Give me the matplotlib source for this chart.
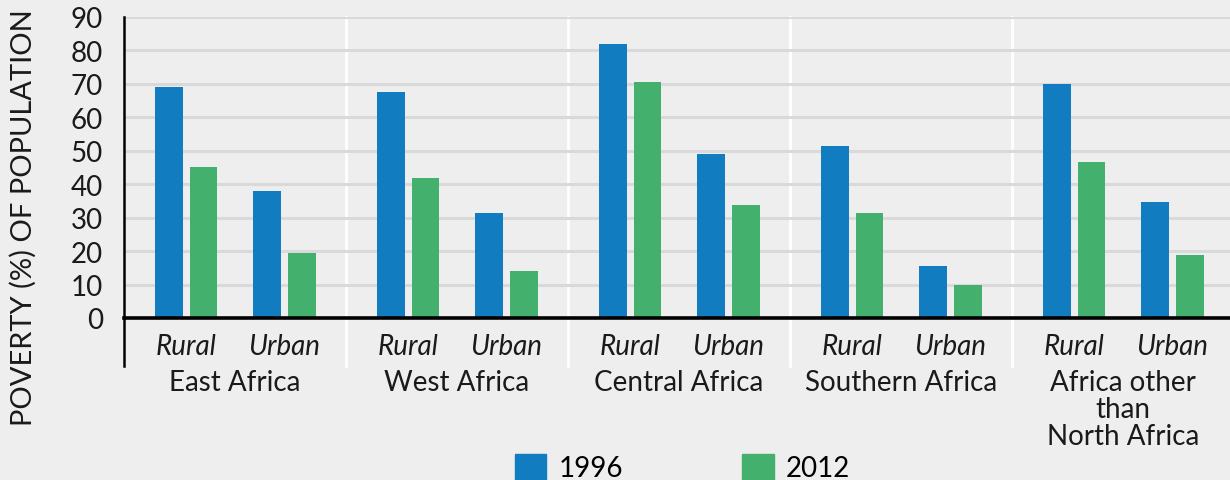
import matplotlib.pyplot as plt
import matplotlib.transforms as mtransforms
from matplotlib.patches import Patch

regions = ['East Africa', 'West Africa', 'Central Africa', 'Southern Africa',
           'Africa other\nthan\nNorth Africa']
areas = ['Rural', 'Urban']
poverty_1996 = [69.0, 37.9, 67.5, 31.4, 81.8, 49.1, 51.5, 15.6, 69.9, 34.7]
poverty_2012 = [45.1, 19.5, 41.9, 14.0, 70.7, 33.9, 31.5, 10.0, 46.7, 18.7]
years = ['1996', '2012']

BLUE = '#117cbf'
GREEN = '#44b06d'
BG = '#eeeeee'
FS = 20

plt.rcParams['font.family'] = ['Lato', 'DejaVu Sans']


def main():
    fig = plt.figure(figsize=(12.3, 4.81), dpi=100, facecolor=BG)
    ax = fig.add_axes([124 / 1230, 1 - 319 / 481, 1110 / 1230, 301 / 481])
    ax.set_facecolor(BG)

    # two bar slots per region, pulled a bit toward the region centre
    xs = []
    for g in range(len(regions)):
        xs += [g * 2 + 0.56, g * 2 + 1.445]
    w = 0.25
    off = 0.157
    ax.bar([x - off for x in xs], poverty_1996, width=w, color=BLUE, zorder=3)
    ax.bar([x + off for x in xs], poverty_2012, width=w, color=GREEN, zorder=3)

    ax.set_xlim(0, 10)
    ax.set_ylim(0, 90)
    ax.set_yticks(range(0, 91, 10))
    ax.yaxis.grid(True, color='#d9d9d9', linewidth=2.2, zorder=0)
    ax.tick_params(axis='y', length=0, pad=15, labelsize=FS, labelcolor='#1a1a1a')

    ax.set_xticks(xs)
    ax.set_xticklabels(areas * len(regions), fontsize=FS, style='italic', color='#1a1a1a')
    ax.tick_params(axis='x', length=0, pad=11)

    for s in ['top', 'right']:
        ax.spines[s].set_visible(False)
    ax.spines['bottom'].set_linewidth(2.6)
    ax.spines['bottom'].set_color('black')
    ax.spines['bottom'].set_zorder(4)
    ax.spines['left'].set_linewidth(1.8)
    ax.spines['left'].set_bounds(0, 90)

    trans = mtransforms.blended_transform_factory(ax.transData, ax.transAxes)
    # left axis line extends below the plot
    ax.plot([0, 0], [0, -0.16], transform=trans, color='black', lw=1.8, clip_on=False)
    for g in range(1, len(regions)):
        ax.plot([g * 2, g * 2], [1, -0.16], transform=trans, color='white',
                lw=2, clip_on=False, zorder=1)

    for g, name in enumerate(regions):
        ax.text(g * 2 + 1, -0.17, name, transform=trans, ha='center', va='top',
                fontsize=FS, color='#1a1a1a', linespacing=1.04)

    fig.text(23 / 1230, 1 - 218 / 481, 'POVERTY (%) OF POPULATION', rotation=90,
             ha='center', va='center', fontsize=21, color='#1a1a1a')

    handles = [Patch(color=BLUE, label=years[0]), Patch(color=GREEN, label=years[1])]
    fig.legend(handles=handles, loc='center', bbox_to_anchor=(0.555, 0.026),
               ncol=2, frameon=False, fontsize=FS, handlelength=1.12,
               handleheight=1.12, handletextpad=0.45, columnspacing=4.3)

    plt.savefig('out.png', dpi=100, facecolor=BG)


if __name__ == '__main__':
    main()
